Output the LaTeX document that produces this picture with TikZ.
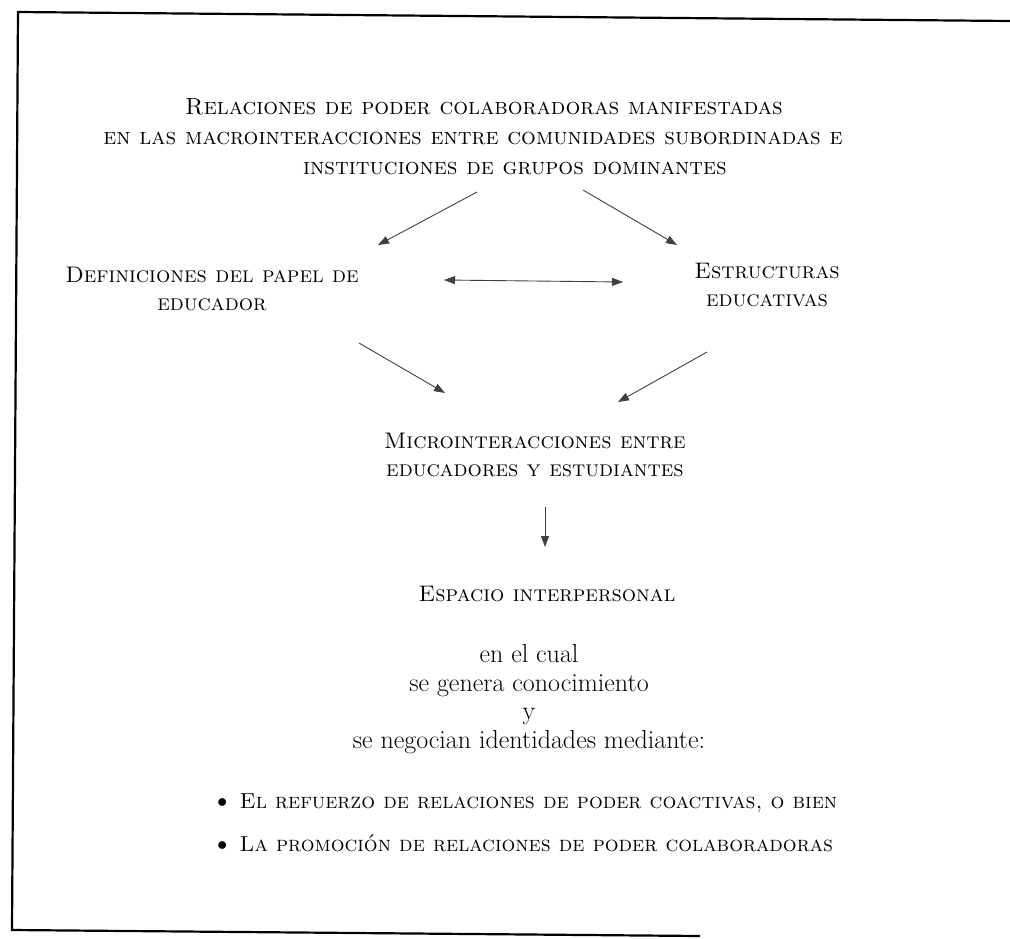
\documentclass[tikz,border=0pt]{standalone}
\usepackage{fontspec}
\usepackage{tikz}
\usetikzlibrary{arrows.meta,positioning}

\newcommand{\titlesize}{\fontsize{23.3}{30}\selectfont}
\newcommand{\capsize}{\fontsize{22.5}{28}\selectfont}
\newcommand{\bodysize}{\fontsize{26}{28.5}\selectfont}

\begin{document}
\begin{tikzpicture}[x=1pt,y=-1pt,
    sc/.style={font=\capsize\scshape, align=center, inner sep=2pt},
    head/.style={font=\titlesize\scshape, align=center, inner sep=2pt},
    txt/.style={font=\bodysize, align=center, inner sep=2pt},
    link/.style={draw=black!75, line width=0.9pt, -{Triangle[length=11pt,width=8pt]}},
    twoway/.style={draw=black!75, line width=0.9pt, {Triangle[length=11pt,width=8pt]}-{Triangle[length=11pt,width=8pt]}},
]
\useasboundingbox (0,0) rectangle (1010,938);
% frame of the scanned page, cut on the right
\draw [line width=2.2pt] (1010,21) -- (18,12) -- (12,930) -- (700,936);

\node [head] (R1) at (484,107) {Relaciones de poder colaboradoras manifestadas};
\node [head] (R2) at (473,138) {en las macrointeracciones entre comunidades subordinadas e};
\node [head] (R3) at (515,168) {instituciones de grupos dominantes};

\node [sc] (D) at (212,289) {Definiciones del papel de\\educador};
\node [sc] (S) at (767,285) {Estructuras\\educativas};
\node [sc] (M) at (535,455) {Microinteracciones entre\\educadores y estudiantes};
\node [sc] (E) at (547,594) {Espacio interpersonal};

\node [txt] (G) at (529,699) {en el cual\\se genera conocimiento\\y\\se negocian identidades mediante:};

\node [sc, align=left, anchor=west, font=\fontsize{21.7}{43}\selectfont\scshape] (B) at (211,823)
    {\textbullet\ El refuerzo de relaciones de poder coactivas, o bien\\
     \textbullet\ La promoción de relaciones de poder colaboradoras};

% arrows
\draw [link] ([shift={(-38,24)}]R3.center) -- ([shift={(166,-44)}]D.center);
\draw [link] ([shift={(68,22)}]R3.center) -- ([shift={(-90,-40)}]S.center);
\draw [twoway] ([shift={(232,-9)}]D.center) -- ([shift={(-144,-3)}]S.center);
\draw [link] ([shift={(147,54)}]D.center) -- ([shift={(-90,-62)}]M.center);
\draw [link] ([shift={(-60,67)}]S.center) -- ([shift={(83,-53)}]M.center);
\draw [link] ([shift={(10,52)}]M.center) -- ([shift={(-2,-47)}]E.center);
\end{tikzpicture}
\end{document}
